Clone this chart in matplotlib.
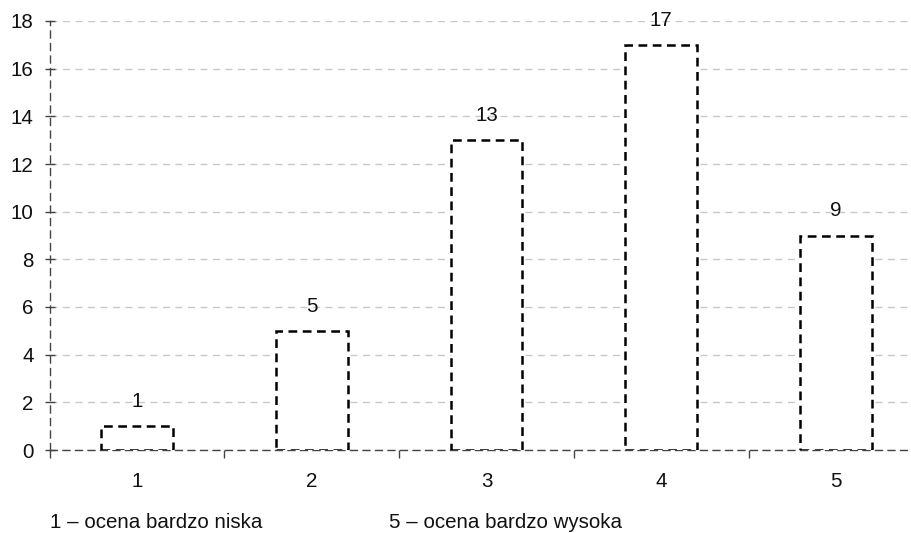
import matplotlib
matplotlib.use("Agg")
import matplotlib.pyplot as plt

categories = ["1", "2", "3", "4", "5"]
values = [1, 5, 13, 17, 9]
yticks = [0, 2, 4, 6, 8, 10, 12, 14, 16, 18]
note_left = "1 – ocena bardzo niska"
note_right = "5 – ocena bardzo wysoka"

FS = 14.8
plt.rcParams['font.family'] = ['Liberation Sans', 'DejaVu Sans']
fig = plt.figure(figsize=(9.12, 5.33), dpi=100)
W, H = 912, 533
left_px, right_px = 49.6, 923.4
top_px, bot_px = 21, 450
ax = fig.add_axes([left_px / W, 1 - bot_px / H, (right_px - left_px) / W, (bot_px - top_px) / H])

x = list(range(len(categories)))
bars = ax.bar(x, values, width=0.41, facecolor='white', edgecolor='black',
              linewidth=1.8, linestyle=(0, (3.5, 2.2)), zorder=3)
for xi, v in zip(x, values):
    ax.text(xi, v + 1.03, str(v), ha='center', va='center', fontsize=FS, color='#111111')

ax.set_xlim(-0.5, len(categories) - 0.5)
ax.set_ylim(0, 18)
ax.set_yticks(yticks)
ax.set_xticks(x)
ax.set_xticklabels(categories)
ax.set_xticks([i + 0.5 for i in range(-1, len(categories))], minor=True)
ax.tick_params(axis='x', which='major', length=0, pad=16, labelsize=FS, labelcolor='#111111')
ax.tick_params(axis='x', which='minor', length=6, width=1, color='#444444', direction='out')
ax.tick_params(axis='y', length=7, width=1, color='#444444', direction='inout', labelsize=FS, labelcolor='#111111', pad=8)

ax.yaxis.grid(True, color='#c8c8c8', linestyle=(0, (5, 4)), linewidth=1)
ax.set_axisbelow(True)
for s in ['top', 'right']:
    ax.spines[s].set_visible(False)
for s in ['left', 'bottom']:
    ax.spines[s].set_color('#444444')
    ax.spines[s].set_linestyle((0, (5, 4)))
    ax.spines[s].set_linewidth(1)

fig.text(50 / W, 1 - 522 / H, note_left, ha='left', va='center', fontsize=FS, color='#111111')
fig.text(389 / W, 1 - 522 / H, note_right, ha='left', va='center', fontsize=FS, color='#111111')

fig.savefig("out.png", dpi=100)
